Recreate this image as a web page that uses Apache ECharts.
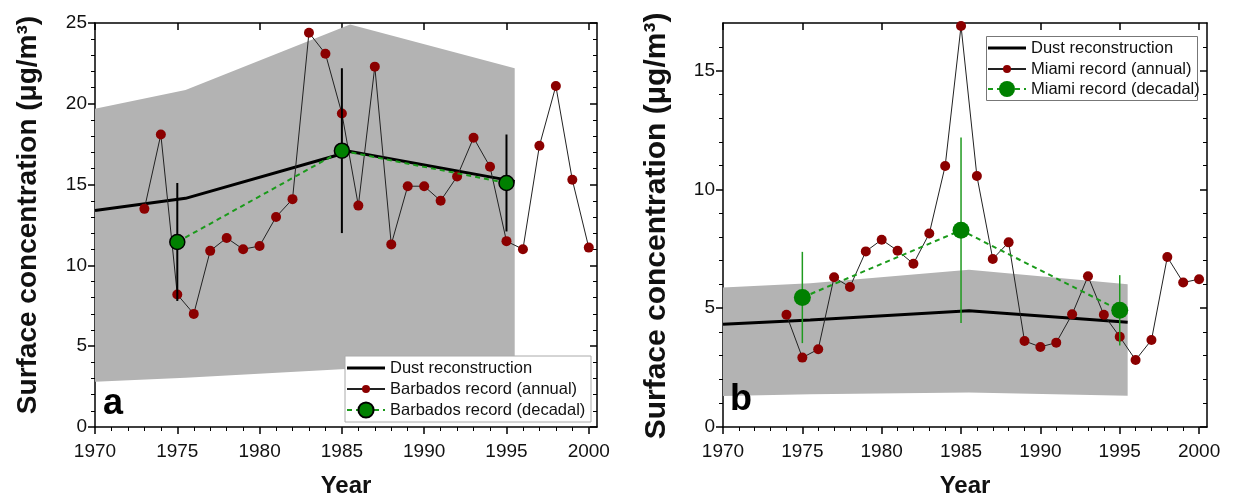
<!DOCTYPE html>
<html>
<head>
<meta charset="utf-8">
<script src="https://cdn.jsdelivr.net/npm/echarts@6/dist/echarts.min.js"></script>
<style>html,body{margin:0;padding:0;background:#fff}#c{width:1242px;height:496px}</style>
</head>
<body>
<div id="c"></div>
<script>
// ---------- DATA ----------
const xMajorTicks = [1970, 1975, 1980, 1985, 1990, 1995, 2000];
const xMinorTicks = [1971,1972,1973,1974,1976,1977,1978,1979,1981,1982,1983,1984,1986,1987,1988,1989,1991,1992,1993,1994,1996,1997,1998,1999];
const yMajorTicksA = [0, 5, 10, 15, 20, 25];
const yMinorTicksA = [1,2,3,4,6,7,8,9,11,12,13,14,16,17,18,19,21,22,23,24];
const yMajorTicksB = [0, 5, 10, 15];
const yMinorTicksB = [1,2,3,4,6,7,8,9,11,12,13,14,16];

// Panel a: Barbados
const barbadosYears = [1973,1974,1975,1976,1977,1978,1979,1980,1981,1982,1983,1984,1985,1986,1987,1988,1989,1990,1991,1992,1993,1994,1995,1996,1997,1998,1999,2000];
const barbadosAnnual = [13.5,18.1,8.2,7.0,10.9,11.7,11.0,11.2,13.0,14.1,24.4,23.1,19.4,13.7,22.3,11.3,14.9,14.9,14.0,15.5,17.9,16.1,11.5,11.0,17.4,21.1,15.3,11.1];
const decYears = [1975, 1985, 1995];
const barbadosDecadal = [11.45, 17.1, 15.1];
const barbadosDecErr = [3.65, 5.1, 3.0];
const reconYears = [1970, 1975.5, 1985.5, 1995.5];
const dustReconA = [13.4, 14.15, 17.05, 15.2];
const bandHighA = [19.7, 20.85, 24.9, 22.2];
const bandLowA = [2.8, 3.05, 3.6, 3.5];

// Panel b: Miami
const miamiYears = [1974,1975,1976,1977,1978,1979,1980,1981,1982,1983,1984,1985,1986,1987,1988,1989,1990,1991,1992,1993,1994,1995,1996,1997,1998,1999,2000];
const miamiAnnual = [4.72,2.92,3.27,6.3,5.89,7.39,7.88,7.42,6.87,8.14,10.98,16.87,10.56,7.07,7.77,3.62,3.37,3.55,4.74,6.34,4.72,3.8,2.82,3.66,7.15,6.08,6.22];
const miamiDecadal = [5.45, 8.28, 4.91];
const miamiDecErr = [1.92, 3.9, 1.48];
const dustReconB = [4.32, 4.5, 4.89, 4.41];
const bandHighB = [5.87, 6.05, 6.62, 6.01];
const bandLowB = [1.3, 1.38, 1.45, 1.31];

// ---------- CHART ----------
const FONT = '"Liberation Sans", Arial, sans-serif';
const chart = echarts.init(document.getElementById('c'), null, {renderer: 'canvas'});

const grids = [
  {left: 95, top: 23, width: 502, height: 404, containLabel: false, outerBoundsMode: 'none'},
  {left: 723, top: 23, width: 484, height: 404, containLabel: false, outerBoundsMode: 'none'}
];
const lineBlack = {color: '#000', width: 1.5};
const plainFmt = function (v) { return String(v); };

function xAxesFor(g) {
  const base = {gridIndex: g, type: 'value', min: 1970, max: 2000.5, splitLine: {show: false}, axisLine: {show: true, lineStyle: lineBlack, onZero: false}};
  return [
    Object.assign({}, base, {position: 'bottom', axisTick: {customValues: xMajorTicks, length: 7, lineStyle: lineBlack},
      axisLabel: {customValues: xMajorTicks, formatter: plainFmt, fontSize: 19, fontFamily: FONT, color: '#111', margin: 15},
      name: 'Year', nameLocation: 'middle', nameGap: 47, nameTextStyle: {fontSize: 24, fontWeight: 'bold', fontFamily: FONT, color: '#111'}}),
    Object.assign({}, base, {position: 'bottom', axisLine: {show: false}, axisTick: {customValues: xMinorTicks, length: 4, lineStyle: {color: '#000', width: 1}}, axisLabel: {show: false}}),
    Object.assign({}, base, {position: 'top', axisTick: {customValues: xMajorTicks, inside: true, length: 7, lineStyle: lineBlack}, axisLabel: {show: false}}),
    Object.assign({}, base, {position: 'top', axisLine: {show: false}, axisTick: {customValues: xMinorTicks, inside: true, length: 4, lineStyle: {color: '#000', width: 1}}, axisLabel: {show: false}})
  ];
}
function yAxesFor(g, max, major, minor) {
  const base = {gridIndex: g, type: 'value', min: 0, max: max, splitLine: {show: false}, axisLine: {show: true, lineStyle: lineBlack, onZero: false}};
  return [
    Object.assign({}, base, {position: 'left', axisTick: {customValues: major, length: 7, lineStyle: lineBlack},
      axisLabel: {customValues: major, formatter: plainFmt, fontSize: 19, fontFamily: FONT, color: '#111', margin: 8}}),
    Object.assign({}, base, {position: 'left', axisLine: {show: false}, axisTick: {customValues: minor, length: 4, lineStyle: {color: '#000', width: 1}}, axisLabel: {show: false}}),
    Object.assign({}, base, {position: 'right', axisTick: {customValues: major, inside: true, length: 7, lineStyle: lineBlack}, axisLabel: {show: false}}),
    Object.assign({}, base, {position: 'right', axisLine: {show: false}, axisTick: {customValues: minor, inside: true, length: 4, lineStyle: {color: '#000', width: 1}}, axisLabel: {show: false}})
  ];
}

function bandSeries(axisIdx, years, hi, lo) {
  return {
    type: 'custom', xAxisIndex: axisIdx, yAxisIndex: axisIdx, silent: true, z: 1, clip: true,
    data: [[years[0], lo[0]]],
    renderItem: function (params, api) {
      const pts = [];
      for (let i = 0; i < years.length; i++) pts.push(api.coord([years[i], hi[i]]));
      for (let i = years.length - 1; i >= 0; i--) pts.push(api.coord([years[i], lo[i]]));
      return {type: 'polygon', shape: {points: pts}, style: {fill: '#b3b3b3'}};
    }
  };
}
function errSeries(axisIdx, years, vals, errs, color, width) {
  return {
    type: 'custom', xAxisIndex: axisIdx, yAxisIndex: axisIdx, silent: true, z: 4,
    data: years.map((y, i) => [y, vals[i] - errs[i], vals[i] + errs[i]]),
    encode: {x: 0, y: [1, 2]},
    renderItem: function (params, api) {
      const p1 = api.coord([api.value(0), api.value(1)]);
      const p2 = api.coord([api.value(0), api.value(2)]);
      return {type: 'line', shape: {x1: p1[0], y1: p1[1], x2: p2[0], y2: p2[1]}, style: {stroke: color, lineWidth: width}};
    }
  };
}
function pairs(xs, ys) { return xs.map((x, i) => [x, ys[i]]); }

const series = [
  // panel a
  bandSeries(0, reconYears, bandHighA, bandLowA),
  {name: 'Dust reconstruction', type: 'line', xAxisIndex: 0, yAxisIndex: 0, z: 2, data: pairs(reconYears, dustReconA), symbol: 'none',
    lineStyle: {color: '#000', width: 3}, itemStyle: {color: '#000'}},
  {name: 'Barbados record (annual)', type: 'line', xAxisIndex: 0, yAxisIndex: 0, z: 3, data: pairs(barbadosYears, barbadosAnnual),
    symbol: 'circle', symbolSize: 10, lineStyle: {color: '#222', width: 1}, itemStyle: {color: '#8b0000'}},
  errSeries(0, decYears, barbadosDecadal, barbadosDecErr, '#000', 2),
  {name: 'Barbados record (decadal)', type: 'line', xAxisIndex: 0, yAxisIndex: 0, z: 5, data: pairs(decYears, barbadosDecadal),
    symbol: 'circle', symbolSize: 15, lineStyle: {color: '#1a9a1a', width: 2, type: [5, 4]}, itemStyle: {color: '#008000', borderColor: '#000', borderWidth: 1.5}},
  // panel b
  bandSeries(4, reconYears, bandHighB, bandLowB),
  {name: 'Dust reconstruction', type: 'line', xAxisIndex: 4, yAxisIndex: 4, z: 2, data: pairs(reconYears, dustReconB), symbol: 'none',
    lineStyle: {color: '#000', width: 3}, itemStyle: {color: '#000'}},
  {name: 'Miami record (annual)', type: 'line', xAxisIndex: 4, yAxisIndex: 4, z: 3, data: pairs(miamiYears, miamiAnnual),
    symbol: 'circle', symbolSize: 10, lineStyle: {color: '#222', width: 1}, itemStyle: {color: '#8b0000'}},
  errSeries(4, decYears, miamiDecadal, miamiDecErr, '#1f9a1f', 1.5),
  {name: 'Miami record (decadal)', type: 'line', xAxisIndex: 4, yAxisIndex: 4, z: 5, data: pairs(decYears, miamiDecadal),
    symbol: 'circle', symbolSize: 17, lineStyle: {color: '#1a9a1a', width: 2, type: [5, 4]}, itemStyle: {color: '#008000'}}
];

const DUST_ICON = 'path://M0,0H40V3H0Z';
const legendBase = {orient: 'vertical', itemWidth: 38, itemGap: 1, selectedMode: false, z: 20, padding: 0,
  textStyle: {fontSize: 16.5, lineHeight: 20, fontFamily: FONT, color: '#111'}};

const option = {
  animation: false,
  backgroundColor: '#fff',
  grid: grids,
  xAxis: xAxesFor(0).concat(xAxesFor(1)),
  yAxis: yAxesFor(0, 25, yMajorTicksA, yMinorTicksA).concat(yAxesFor(1, 17, yMajorTicksB, yMinorTicksB)),
  legend: [
    Object.assign({}, legendBase, {left: 346, top: 358, itemHeight: 10,
      data: [{name: 'Dust reconstruction', icon: DUST_ICON}, 'Barbados record (annual)']}),
    Object.assign({}, legendBase, {left: 346, top: 400, itemHeight: 19, data: ['Barbados record (decadal)']}),
    Object.assign({}, legendBase, {left: 987, top: 38, itemHeight: 10,
      data: [{name: 'Dust reconstruction', icon: DUST_ICON}, 'Miami record (annual)']}),
    Object.assign({}, legendBase, {left: 987, top: 79, itemHeight: 20, data: ['Miami record (decadal)']})
  ],
  graphic: [
    {type: 'rect', z: 10, shape: {x: 345, y: 356, width: 246, height: 66}, style: {fill: '#fff', stroke: '#aaa', lineWidth: 1}},
    {type: 'rect', z: 10, shape: {x: 986.5, y: 36.5, width: 211, height: 64}, style: {fill: '#fff', stroke: '#777', lineWidth: 1}},
    {type: 'text', x: 28, y: 215, rotation: Math.PI / 2, style: {text: 'Surface concentration (μg/m³)', font: 'bold 28px ' + FONT, fill: '#111', align: 'center', verticalAlign: 'middle'}},
    {type: 'text', x: 657, y: 226, rotation: Math.PI / 2, style: {text: 'Surface concentration (μg/m³)', font: 'bold 30px ' + FONT, fill: '#111', align: 'center', verticalAlign: 'middle'}},
    {type: 'text', left: 103, top: 386, z: 10, style: {text: 'a', font: 'bold 36px ' + FONT, fill: '#000'}},
    {type: 'text', left: 730, top: 382, z: 10, style: {text: 'b', font: 'bold 36px ' + FONT, fill: '#000'}}
  ],
  series: series
};
chart.setOption(option);
</script>
</body>
</html>
